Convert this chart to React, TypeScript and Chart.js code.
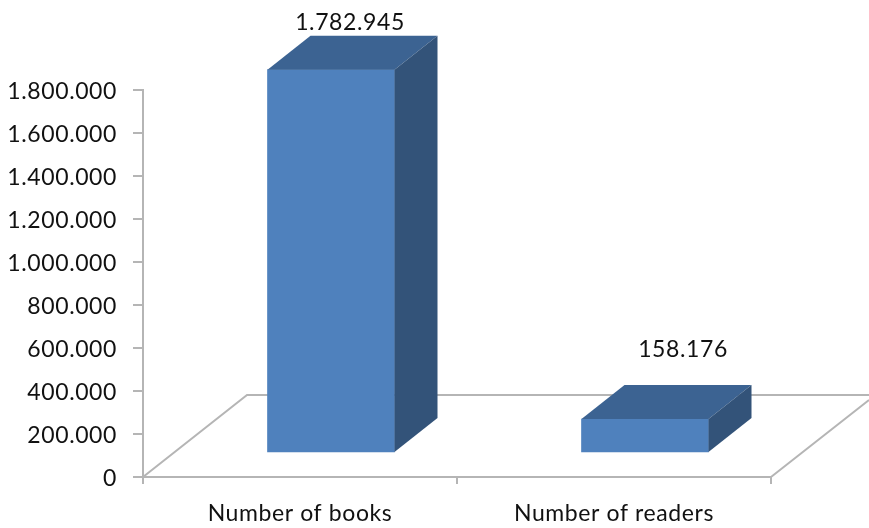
import React, { useEffect, useRef } from "react";
import { Chart, registerables } from "chart.js";

Chart.register(...registerables);

const categories = ["Number of books", "Number of readers"];
const seriesValues = [1782945, 158176];
const axisMax = 1800000;
const axisStep = 200000;

const DEPTH_X = 43;
const DEPTH_Y = 34;
const BAR_SHIFT_X = 31;
const BAR_SHIFT_Y = -24;
const FLOOR_X = 104;
const FLOOR_Y = 82;
const FONT_FAMILY = "Lato, 'Open Sans', sans-serif";
const FONT_SIZE = 23;
const TRACKING = "0.6px";
const LINE = "#b5b5b5";
const labelNudges = [
  { x: 19, y: -13 },
  { x: 38, y: -35 },
];

const fmt = (v: number) => String(v).replace(/\B(?=(\d{3})+(?!\d))/g, ".");

const box3d = {
  id: "box3d",
  beforeDraw(chart: any) {
    (chart.ctx as any).letterSpacing = TRACKING;
  },
  beforeDatasetsDraw(chart: any) {
    const { ctx, chartArea } = chart;
    const { left, right, bottom } = chartArea;
    const w = chart.width;
    ctx.save();
    ctx.strokeStyle = LINE;
    ctx.lineWidth = 2;
    ctx.beginPath();
    ctx.moveTo(left, bottom);
    ctx.lineTo(left + FLOOR_X, bottom - FLOOR_Y);
    ctx.lineTo(w, bottom - FLOOR_Y);
    ctx.moveTo(right, bottom);
    ctx.lineTo(w, bottom - FLOOR_Y + 5);
    ctx.stroke();
    ctx.restore();
    ctx.save();
    ctx.translate(BAR_SHIFT_X, BAR_SHIFT_Y);
  },
  afterDatasetsDraw(chart: any) {
    const { ctx } = chart;
    const meta = chart.getDatasetMeta(0);
    const poly = (pts: number[][], fill: string) => {
      ctx.fillStyle = fill;
      ctx.beginPath();
      pts.forEach(([x, y], i) => (i ? ctx.lineTo(x, y) : ctx.moveTo(x, y)));
      ctx.closePath();
      ctx.fill();
    };
    const tops: any[] = [];
    meta.data.forEach((el: any) => {
      const { x, y, base, width } = el.getProps(["x", "y", "base", "width"], true);
      const l = x - width / 2;
      const r = x + width / 2;
      poly(
        [[l, y], [r, y], [r + DEPTH_X, y - DEPTH_Y], [l + DEPTH_X, y - DEPTH_Y]],
        "#3c6392"
      );
      poly(
        [[r, y], [r + DEPTH_X, y - DEPTH_Y], [r + DEPTH_X, base - DEPTH_Y], [r, base]],
        "#335379"
      );
      tops.push({ x, y: y - DEPTH_Y });
    });
    ctx.restore();
    ctx.save();
    ctx.font = `${FONT_SIZE}px ${FONT_FAMILY}`;
    ctx.fillStyle = "#111";
    ctx.textAlign = "center";
    ctx.textBaseline = "middle";
    tops.forEach((t, i) => {
      ctx.fillText(
        fmt(seriesValues[i]),
        t.x + BAR_SHIFT_X + labelNudges[i].x,
        t.y + BAR_SHIFT_Y + labelNudges[i].y
      );
    });
    ctx.restore();
  },
};

export default function App() {
  const ref = useRef<HTMLCanvasElement>(null);
  useEffect(() => {
    document.body.style.margin = "0";
    const chart = new Chart(ref.current!, {
      type: "bar",
      data: {
        labels: categories,
        datasets: [
          {
            data: seriesValues,
            backgroundColor: "#4f81bd",
            barThickness: 127,
            clip: false,
          } as any,
        ],
      },
      options: {
        responsive: false,
        animation: false,
        layout: { padding: { top: 90, right: 98, left: 0, bottom: 0 } },
        plugins: { legend: { display: false }, tooltip: { enabled: false } },
        scales: {
          x: {
            afterFit(s: any) {
              s.height = 51;
            },
            grid: { drawOnChartArea: false, drawTicks: true, tickLength: 7, color: LINE, lineWidth: 2 },
            border: { color: LINE, width: 2 },
            ticks: {
              padding: 16,
              color: "#111",
              font: { family: FONT_FAMILY, size: FONT_SIZE },
              maxRotation: 0,
            },
          },
          y: {
            min: 0,
            max: axisMax,
            afterFit(s: any) {
              s.width = 143;
            },
            grid: { drawOnChartArea: false, drawTicks: true, tickLength: 10, color: LINE, lineWidth: 2 },
            border: { color: LINE, width: 2 },
            ticks: {
              stepSize: axisStep,
              padding: 16,
              labelOffset: 2,
              color: "#111",
              font: { family: FONT_FAMILY, size: FONT_SIZE },
              callback: (v: any) => fmt(Number(v)),
            },
          },
        },
      },
      plugins: [box3d],
    });
    return () => chart.destroy();
  }, []);
  return <canvas ref={ref} width={869} height={528} style={{ display: "block", filter: "blur(0.5px)" }} />;
}
